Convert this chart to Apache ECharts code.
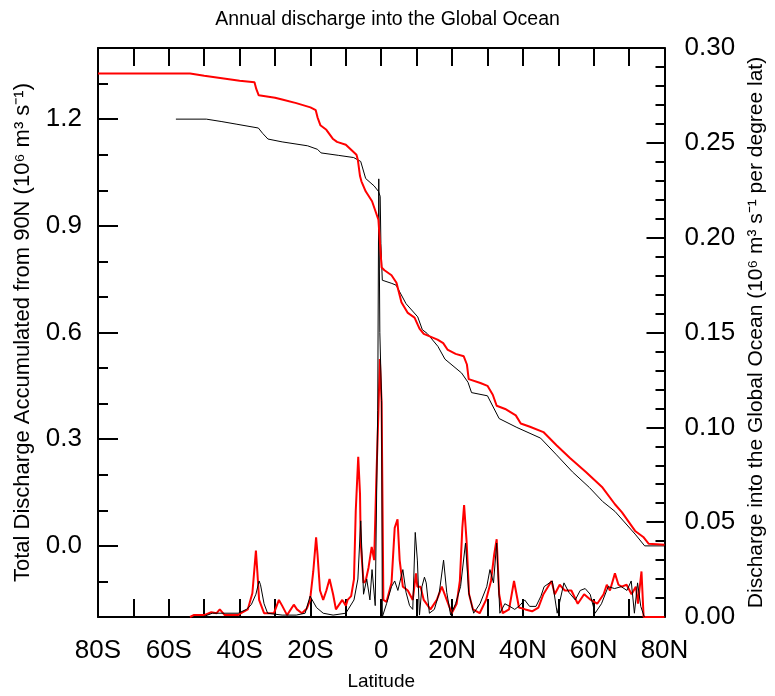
<!DOCTYPE html>
<html>
<head>
<meta charset="utf-8">
<script src="https://cdn.jsdelivr.net/npm/echarts@6/dist/echarts.min.js"></script>
<style>
  html, body { margin: 0; padding: 0; background: #fff; }
  #chart { width: 775px; height: 696px; }
</style>
</head>
<body>
<div id="chart"></div>
<script>
// accumulated discharge from 90N (left axis)
const redAccLat = [-80, -54, -50, -45, -40, -35.8, -35.3, -34.6, -30, -28, -24, -20, -18.5, -18, -17.2, -15.5, -13.6, -12.5, -10, -7, -6.6, -6, -5.6, -4.4, -2.6, -0.8, -0.4, 0.1, 0.9, 2.9, 4.3, 5.7, 7.5, 9.4, 10.8, 12, 15.9, 17.5, 18.7, 21, 23.3, 24.2, 24.7, 28, 30, 31.5, 32.6, 35, 38, 39.4, 42, 45.8, 49.5, 53.3, 57.8, 62.5, 66, 68, 71.7, 74, 75.5, 80]
const redAccVal = [1.328, 1.328, 1.322, 1.315, 1.308, 1.304, 1.285, 1.267, 1.26, 1.255, 1.245, 1.233, 1.225, 1.205, 1.183, 1.17, 1.144, 1.136, 1.128, 1.1, 1.085, 1.04, 1.025, 0.997, 0.969, 0.917, 0.858, 0.783, 0.775, 0.761, 0.74, 0.685, 0.655, 0.642, 0.611, 0.596, 0.58, 0.57, 0.552, 0.54, 0.533, 0.51, 0.469, 0.458, 0.45, 0.425, 0.394, 0.385, 0.367, 0.344, 0.335, 0.32, 0.283, 0.247, 0.208, 0.164, 0.117, 0.094, 0.042, 0.025, 0.006, 0.003]

const blackAccLat = [-58, -49.4, -45, -41, -34.7, -33.5, -32, -28, -20.8, -18, -17, -12, -7.8, -5.8, -4.4, -2, -0.8, -0.3, -0.1, 0.3, 3, 4.2, 7, 10.3, 11.6, 13, 16, 18, 22.7, 24.5, 25.5, 30, 33.3, 38.3, 45, 49.5, 54, 58.8, 62.5, 66, 71.7, 74.4, 80]
const blackAccVal = [1.2, 1.2, 1.193, 1.186, 1.175, 1.16, 1.144, 1.136, 1.125, 1.115, 1.105, 1.098, 1.092, 1.081, 1.033, 1.012, 0.997, 0.983, 0.85, 0.747, 0.738, 0.733, 0.681, 0.644, 0.608, 0.597, 0.561, 0.525, 0.486, 0.46, 0.431, 0.422, 0.358, 0.333, 0.303, 0.256, 0.208, 0.164, 0.125, 0.097, 0.033, 0.0, 0.0]

// discharge per degree latitude (right axis)
const redDisLat = [-54, -53, -50, -48, -46.5, -45.6, -44.2, -40.5, -39.6, -37.7, -36.4, -35.4, -35, -34.5, -33.1, -30.3, -28.9, -28, -26.6, -24.7, -23.8, -22.4, -21, -20.1, -19.2, -18.4, -18, -17.3, -16.4, -15.5, -14.6, -13.6, -12.8, -11, -10, -9.5, -8.5, -7.7, -7.2, -6.5, -6, -5.8, -5, -4.4, -3.6, -2.7, -2, -1.4, -0.8, -0.4, 0.1, 0.6, 1.5, 2.9, 3.8, 4.6, 5.2, 6.1, 7.5, 8.9, 9.8, 10.2, 11.1, 12, 13.9, 15.7, 17.1, 18.5, 19.9, 21.3, 22.2, 22.9, 23.4, 24.1, 24.8, 25.9, 27.8, 29.6, 31, 31.9, 32.6, 33.3, 34.3, 36.1, 37.5, 38.9, 40.7, 42.6, 44.4, 45.8, 48.1, 49, 50.4, 51.8, 53.7, 55.5, 57.3, 59.2, 61, 62.8, 63.7, 64.6, 66, 67, 67.9, 69.3, 70.7, 71.9, 72.5, 73.5, 74.1, 80]
const redDisVal = [0, 0.001, 0.001, 0.0025, 0.002, 0.004, 0.001, 0.001, 0.002, 0.004, 0.0125, 0.035, 0.024, 0.009, 0.002, 0.002, 0.009, 0.006, 0.001, 0.0065, 0.004, 0.002, 0.0045, 0.009, 0.024, 0.042, 0.033, 0.014, 0.009, 0.014, 0.02, 0.012, 0.004, 0.009, 0.006, 0.009, 0.011, 0.02, 0.056, 0.0845, 0.065, 0.039, 0.018, 0.019, 0.026, 0.037, 0.03, 0.072, 0.108, 0.136, 0.113, 0.009, 0.008, 0.018, 0.047, 0.0515, 0.03, 0.016, 0.014, 0.009, 0.023, 0.016, 0.016, 0.009, 0.004, 0.009, 0.016, 0.009, 0.002, 0.007, 0.019, 0.047, 0.059, 0.04, 0.012, 0.004, 0.002, 0.009, 0.019, 0.033, 0.041, 0.012, 0.002, 0.004, 0.019, 0.005, 0.004, 0.003, 0.005, 0.012, 0.019, 0.012, 0.017, 0.014, 0.014, 0.007, 0.012, 0.009, 0.007, 0.012, 0.017, 0.014, 0.023, 0.017, 0.016, 0.017, 0.012, 0.016, 0.007, 0.024, 0, 0]

const blackDisLat = [-50.5, -47.7, -40.4, -38.1, -36.7, -35.4, -34.5, -34.1, -33.1, -32.1, -28, -24, -21.5, -20.1, -18.3, -16.4, -13.6, -10, -7.7, -6.6, -5.8, -5, -4.1, -3.2, -2.6, -1.7, -1, -0.7, -0.4, 0.1, 0.3, 1.5, 2.9, 3.8, 4.7, 6.1, 7, 8, 8.9, 9.6, 10.2, 10.8, 11.5, 12.2, 12.7, 13.6, 15, 16.4, 17.6, 18.5, 19.6, 21, 22.4, 23.8, 24.7, 26.1, 27.9, 29.8, 30.7, 31.7, 32.6, 33.5, 34.9, 36.3, 37.7, 39.1, 40.5, 41.9, 43.7, 45.1, 46, 48.3, 49.7, 51.6, 53, 54.8, 56.2, 57.6, 59, 60.4, 62.2, 64.1, 65.9, 67.8, 69.4, 70.6, 71.5, 72.4, 73.3, 74.3]
const blackDisVal = [0, 0.002, 0.002, 0.004, 0.0065, 0.012, 0.019, 0.017, 0.007, 0.002, 0.001, 0.001, 0.002, 0.011, 0.005, 0.002, 0.001, 0.002, 0.009, 0.02, 0.0507, 0.012, 0.02, 0.009, 0.025, 0.006, 0.109, 0.231, 0.15, 0.114, 0, 0.007, 0.016, 0.019, 0.014, 0.025, 0.013, 0.006, 0.004, 0.0446, 0.03, 0.001, 0.016, 0.021, 0.018, 0.002, 0.004, 0.013, 0.03, 0.013, 0.001, 0.007, 0.016, 0.039, 0.013, 0.002, 0.007, 0.016, 0.025, 0.018, 0.039, 0.002, 0.007, 0.0056, 0.004, 0.006, 0.009, 0.0056, 0.0056, 0.011, 0.016, 0.019, 0.002, 0.018, 0.013, 0.009, 0.014, 0.015, 0.012, 0.002, 0.007, 0.016, 0.015, 0.016, 0.014, 0.019, 0.002, 0.018, 0.0056, 0]

const leftLabels = [0, 0.3, 0.6, 0.9, 1.2]

const FONT = "Liberation Sans, Arial, Helvetica, sans-serif"
const GRID = { left: 98, top: 48, width: 576, height: 576 }

function pairs(lats, vals) {
  return lats.map((lat, i) => [lat, vals[i]])
}

function latLabel(value) {
  const v = Math.round(value)
  if (v % 20 !== 0) return ""
  if (v === 0) return "0"
  return v < 0 ? `${-v}S` : `${v}N`
}

function isMultiple(value, step) {
  const r = value / step
  return Math.abs(r - Math.round(r)) < 1e-6
}

function lineSeries(data, yAxisIndex, color, width) {
  return {
    type: "line",
    xAxisIndex: 0,
    yAxisIndex,
    data,
    showSymbol: false,
    symbol: "none",
    lineStyle: { color, width },
    silent: true
  }
}

const chart = echarts.init(document.getElementById("chart"), null, { renderer: "canvas" })

const boxLine = { show: true, onZero: false, lineStyle: { color: "#000", width: 2 } }
const noLine = { show: false, onZero: false }
const tick = (length, extra = {}) => ({ show: true, inside: true, length, lineStyle: { color: "#000", width: 2 }, ...extra })
const nameStyle = { fontFamily: FONT, fontSize: 21, color: "#000" }
const labelStyle = { fontFamily: FONT, fontSize: 26, color: "#000" }

chart.setOption({
  animation: false,
  backgroundColor: "#fff",
  title: {
    text: "Annual discharge into the Global Ocean",
    left: "center",
    top: 5,
    textStyle: { fontFamily: FONT, fontSize: 19.5, fontWeight: "normal", color: "#000" }
  },
  grid: GRID,
  xAxis: [
    {
      type: "value",
      position: "bottom",
      min: -80,
      max: 80,
      interval: 10,
      name: "Latitude",
      nameLocation: "middle",
      nameGap: 55,
      nameTextStyle: { ...nameStyle, fontSize: 19 },
      axisLine: boxLine,
      axisTick: tick(18),
      axisLabel: { formatter: latLabel, ...labelStyle, margin: 21 },
      splitLine: { show: false }
    },
    {
      type: "value",
      position: "top",
      min: -80,
      max: 80,
      interval: 10,
      axisLine: boxLine,
      axisTick: tick(18),
      axisLabel: { show: false },
      splitLine: { show: false }
    }
  ],
  yAxis: [
    {
      type: "value",
      position: "left",
      min: -0.2,
      max: 1.4,
      interval: 0.1,
      name: "Total Discharge Accumulated from 90N (10⁶ m³ s⁻¹)",
      nameLocation: "middle",
      nameRotate: 90,
      nameGap: 64,
      nameTextStyle: { ...nameStyle, fontSize: 22 },
      axisLine: boxLine,
      axisTick: tick(10),
      axisLabel: {
        formatter: (v) => (isMultiple(v, 0.3) && v >= 0 ? v.toFixed(1) : ""),
        ...labelStyle,
        margin: 16
      },
      splitLine: { show: false }
    },
    {
      type: "value",
      position: "right",
      min: 0,
      max: 0.3,
      interval: 0.01,
      name: "Discharge into the Global Ocean (10⁶ m³ s⁻¹ per degree lat)",
      nameLocation: "middle",
      nameRotate: 90,
      nameGap: 78,
      nameTextStyle: nameStyle,
      axisLine: boxLine,
      axisTick: tick(9),
      axisLabel: {
        formatter: (v) => (isMultiple(v, 0.05) ? v.toFixed(2) : ""),
        ...labelStyle,
        margin: 20
      },
      splitLine: { show: false }
    },
    {
      // long ticks on the left
      type: "value",
      position: "left",
      min: -0.2,
      max: 1.4,
      axisLine: noLine,
      axisTick: tick(20, { customValues: leftLabels }),
      axisLabel: { show: false, customValues: leftLabels },
      splitLine: { show: false }
    },
    {
      // long ticks on the right
      type: "value",
      position: "right",
      min: 0,
      max: 0.3,
      interval: 0.05,
      axisLine: noLine,
      axisTick: tick(18),
      axisLabel: { show: false },
      splitLine: { show: false }
    }
  ],
  series: [
    lineSeries(pairs(redDisLat, redDisVal), 1, "#ff0000", 2),
    lineSeries(pairs(blackDisLat, blackDisVal), 1, "#000000", 1),
    lineSeries(pairs(blackAccLat, blackAccVal), 0, "#000000", 1),
    lineSeries(pairs(redAccLat, redAccVal), 0, "#ff0000", 2)
  ]
})
</script>
</body>
</html>
